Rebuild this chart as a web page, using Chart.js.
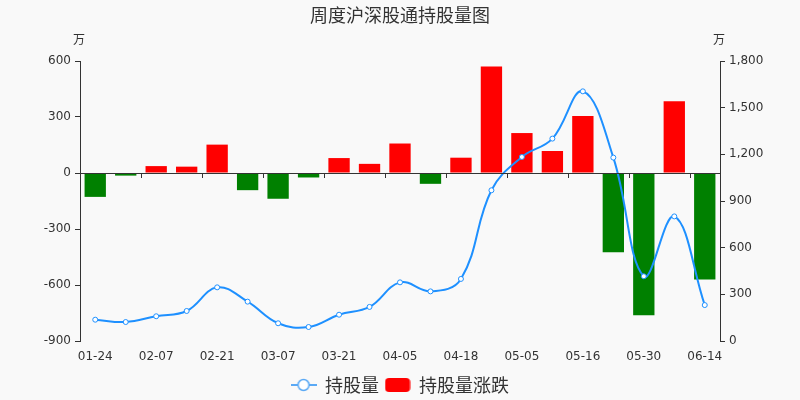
<!DOCTYPE html>
<html>
<head>
<meta charset="utf-8">
<script src="https://cdn.jsdelivr.net/npm/chart.js@4"></script>
<style>
  html, body { margin: 0; padding: 0; background: #f9f9f9; }
  #wrap { width: 800px; height: 400px; }
</style>
</head>
<body>
<div id="wrap"><canvas id="c"></canvas></div>
<script>
const LABELS = ['01-24', '01-31', '02-07', '02-14', '02-21', '02-28', '03-07', '03-14', '03-21', '03-28', '04-05',
    '04-11', '04-18', '04-25', '05-05', '05-09', '05-16', '05-23', '05-30', '06-06', '06-14'];
// 持股量涨跌 (万)
const CHANGE = [-128, -14, 37, 34, 152, -92, -138, -24, 80, 49, 158, -58, 82, 570, 214, 118, 305, -425, -762, 385, -570];
// 持股量 (万)
const HOLDING = [137, 122, 159, 193, 345, 253, 114, 90, 169, 219, 377, 319, 399, 969, 1183, 1301, 1605, 1179, 416, 801, 231];
const LEFT_TICKS = { min: -900, max: 600, step: 300 };
const RIGHT_TICKS = { min: 0, max: 1800, step: 300 };

const FONT = '"DejaVu Sans", "Noto Sans CJK SC", sans-serif';
const CJK = '"Noto Sans CJK SC", sans-serif';
const AXIS_COLOR = '#333';
const LINE_COLOR = '#1e90ff';

function lineIcon() {
    const c = document.createElement('canvas');
    c.width = 26; c.height = 16;
    const x = c.getContext('2d');
    x.strokeStyle = '#5aa9f5'; x.lineWidth = 2;
    x.beginPath(); x.moveTo(0, 8); x.lineTo(26, 8); x.stroke();
    x.fillStyle = '#fff'; x.lineWidth = 1.5;
    x.beginPath(); x.arc(13, 8, 5.5, 0, Math.PI * 2); x.fill(); x.stroke();
    return c;
}
function barIcon() {
    const c = document.createElement('canvas');
    c.width = 26; c.height = 16;
    const x = c.getContext('2d');
    x.fillStyle = '#ff0000';
    x.beginPath(); x.roundRect(0.5, 1, 25, 14, 4); x.fill();
    return c;
}

const decor = {
    id: 'decor',
    afterDraw(chart) {
        const { ctx, chartArea, scales } = chart;
        ctx.save();
        // title
        ctx.fillStyle = AXIS_COLOR;
        ctx.font = '18px ' + CJK;
        ctx.textAlign = 'center'; ctx.textBaseline = 'middle';
        ctx.fillText('周度沪深股通持股量图', 400, 15);
        // units
        ctx.font = '12px ' + CJK;
        ctx.fillText('万', chartArea.left - 1, 39);
        ctx.fillText('万', chartArea.right - 1, 39);
        // zero line with category ticks
        const y0 = Math.round(scales.y.getPixelForValue(0));
        ctx.strokeStyle = AXIS_COLOR; ctx.lineWidth = 1;
        ctx.beginPath();
        ctx.moveTo(chartArea.left, y0 + 0.5); ctx.lineTo(chartArea.right, y0 + 0.5);
        const x = scales.x;
        const w = (x.getPixelForValue(1) - x.getPixelForValue(0));
        for (let i = 2; i < LABELS.length; i += 2) {
            const px = Math.round(x.getPixelForValue(i) - w / 2) + 0.5;
            ctx.moveTo(px, y0); ctx.lineTo(px, y0 + 5);
        }
        ctx.stroke();
        ctx.restore();
    }
};

new Chart(document.getElementById('c'), {
    data: {
        labels: LABELS,
        datasets: [
            {
                type: 'line', label: '持股量', data: HOLDING, yAxisID: 'y1',
                borderColor: LINE_COLOR, borderWidth: 2, tension: 0.4,
                pointRadius: 2.5, pointBackgroundColor: '#fff', pointBorderColor: LINE_COLOR, pointBorderWidth: 1,
                order: 0
            },
            {
                type: 'bar', label: '持股量涨跌', data: CHANGE, yAxisID: 'y',
                backgroundColor: CHANGE.map(v => v >= 0 ? '#ff0000' : '#008000'),
                categoryPercentage: 0.7, barPercentage: 1,
                order: 1
            }
        ]
    },
    plugins: [decor],
    options: {
        responsive: true, maintainAspectRatio: false, animation: false,
        layout: { padding: { top: 61, left: 0, right: 0, bottom: -4 } },
        plugins: {
            title: { display: false },
            tooltip: { enabled: false },
            legend: {
                position: 'bottom',
                labels: {
                    usePointStyle: true, pointStyleWidth: 25, color: AXIS_COLOR, padding: 6,
                    font: { family: CJK, size: 18 },
                    generateLabels: chart => chart.data.datasets.map((d, i) => ({
                        text: d.label, pointStyle: i === 0 ? lineIcon() : barIcon(),
                        fontColor: AXIS_COLOR, hidden: false, datasetIndex: i, lineWidth: 0
                    }))
                }
            }
        },
        scales: {
            x: {
                offset: true,
                grid: { display: false },
                border: { display: false },
                ticks: {
                    color: AXIS_COLOR, font: { family: FONT, size: 12 }, maxRotation: 0, autoSkip: false,
                    padding: 1,
                    callback: (v, i) => i % 2 === 0 ? LABELS[i] : ''
                },
                afterFit: s => { s.height = 29; }
            },
            y: {
                position: 'left', min: LEFT_TICKS.min, max: LEFT_TICKS.max,
                grid: { drawOnChartArea: false, color: AXIS_COLOR, tickLength: 5 },
                border: { display: true, color: AXIS_COLOR },
                ticks: { stepSize: LEFT_TICKS.step, color: AXIS_COLOR, font: { family: FONT, size: 12 }, padding: 4 },
                afterFit: s => { s.width = 80; }
            },
            y1: {
                position: 'right', min: RIGHT_TICKS.min, max: RIGHT_TICKS.max,
                grid: { drawOnChartArea: false, color: AXIS_COLOR, tickLength: 5 },
                border: { display: true, color: AXIS_COLOR },
                ticks: { stepSize: RIGHT_TICKS.step, color: AXIS_COLOR, font: { family: FONT, size: 12 }, padding: 4 },
                afterFit: s => { s.width = 80; }
            }
        }
    }
});
</script>
</body>
</html>
